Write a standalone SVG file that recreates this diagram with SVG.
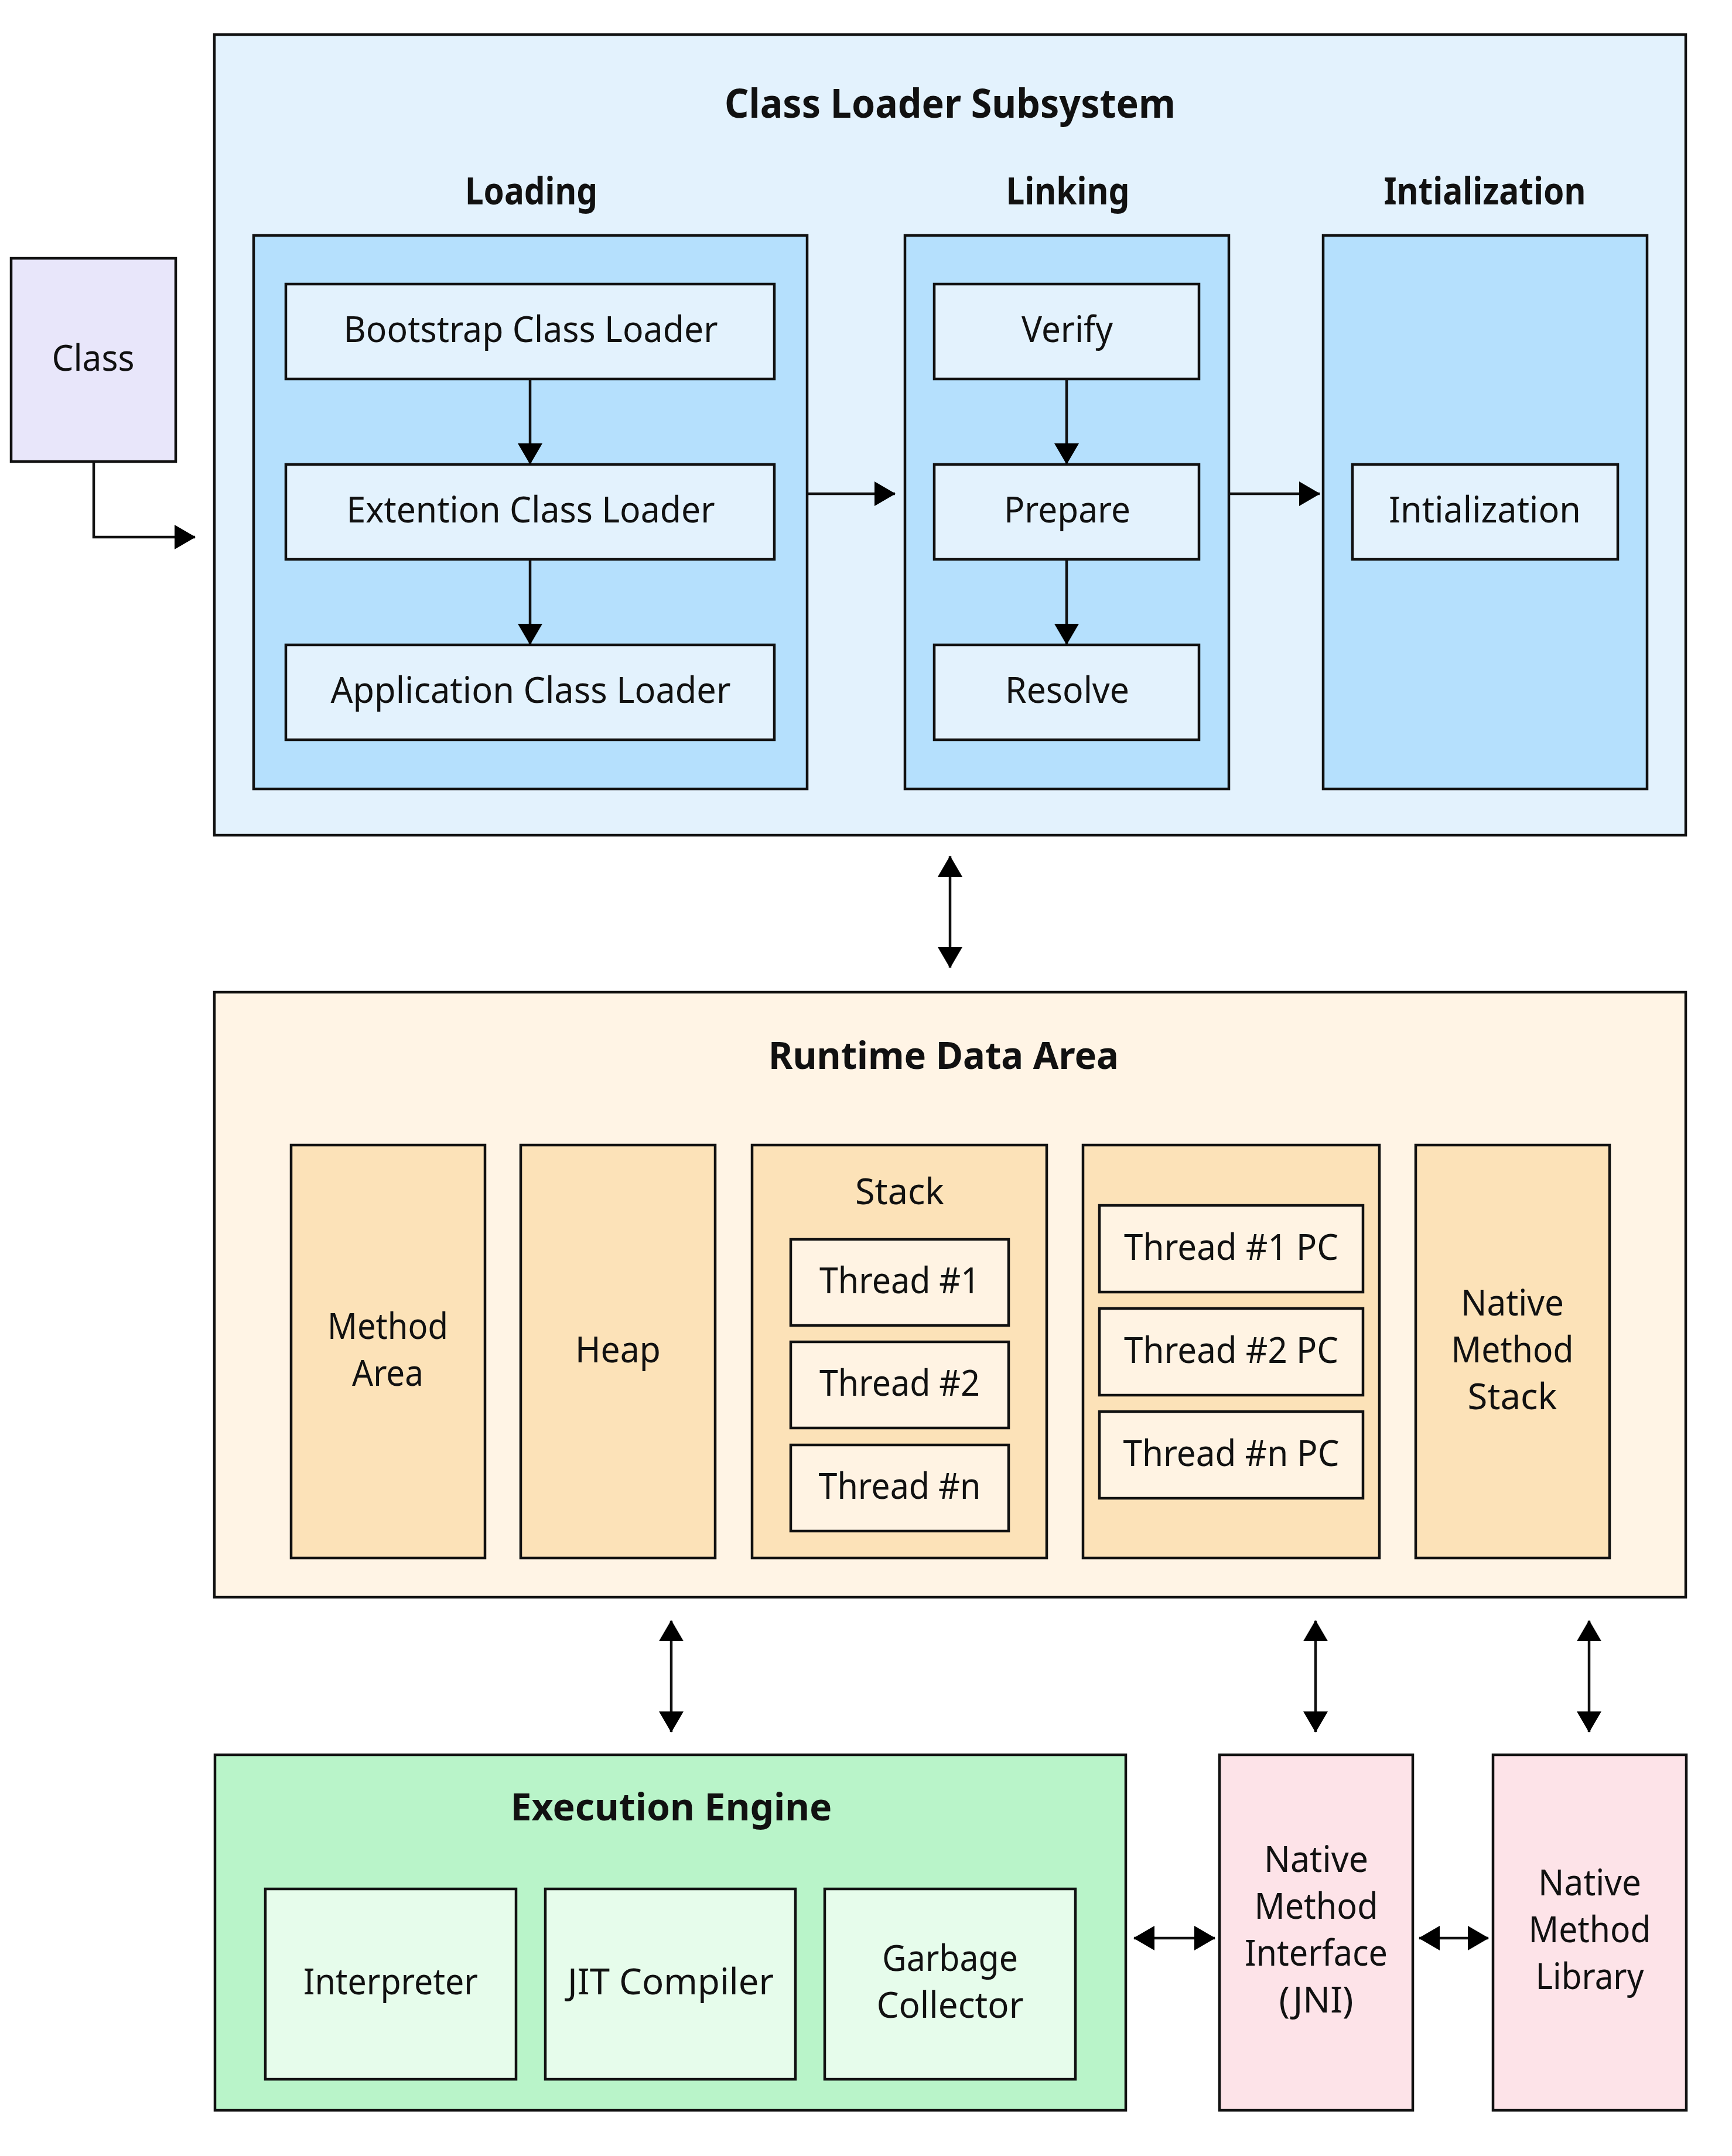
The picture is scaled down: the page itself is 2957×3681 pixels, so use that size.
<svg xmlns="http://www.w3.org/2000/svg" width="2957" height="3681" viewBox="0 0 2957 3681">
  <style>
    .box { stroke: #111; stroke-width: 4.5; }
    .t { font-family: "Noto Sans", "Liberation Sans", sans-serif; font-size: 62px; fill: #111; text-anchor: middle; }
    .h { font-family: "Noto Sans", "Liberation Sans", sans-serif; font-size: 64px; font-weight: bold; fill: #111; text-anchor: middle; }
    .title { font-size: 68px; }
    .cls-outer { fill: #E3F2FD; }
    .cls-group { fill: #B5E0FD; }
    .cls-leaf { fill: #E3F2FD; }
    .src { fill: #E8E6FA; }
    .rda-outer { fill: #FFF4E5; }
    .rda-part { fill: #FCE2B8; }
    .rda-leaf { fill: #FFF3E3; }
    .ee-outer { fill: #B9F4C9; }
    .ee-leaf { fill: #E6FCEB; }
    .native { fill: #FDE3E8; }
    .edge { fill: none; stroke: #111; stroke-width: 4.5; }
  </style>
  <defs>
    <marker id="arrow" markerUnits="userSpaceOnUse" markerWidth="36" markerHeight="42" viewBox="0 0 36 42" refX="35" refY="21" orient="auto-start-reverse">
      <path d="M0,0 L36,21 L0,42 Z" fill="#000"/>
    </marker>
  </defs>

  <rect width="2957" height="3681" fill="#fff"/>

  <!-- Source class file -->
  <g id="class">
    <rect class="box src" x="19" y="441" width="281" height="347"/>
    <text class="t" x="159" y="633" textLength="141" lengthAdjust="spacingAndGlyphs">Class</text>
  </g>

  <!-- Class loader subsystem -->
  <g id="class-loader-subsystem">
    <rect class="box cls-outer" x="366" y="59" width="2512" height="1367"/>
    <text class="h title" x="1622" y="201" textLength="770" lengthAdjust="spacingAndGlyphs">Class Loader Subsystem</text>
  </g>

  <g id="loading">
    <text class="h" x="907" y="349" textLength="226" lengthAdjust="spacingAndGlyphs">Loading</text>
    <rect class="box cls-group" x="433" y="402" width="945" height="945"/>
  </g>
  <g id="bootstrap-loader">
    <rect class="box cls-leaf" x="488" y="485" width="834" height="162"/>
    <text class="t" x="906" y="584" textLength="639" lengthAdjust="spacingAndGlyphs">Bootstrap Class Loader</text>
  </g>
  <g id="extention-loader">
    <rect class="box cls-leaf" x="488" y="793" width="834" height="162"/>
    <text class="t" x="906" y="892" textLength="629" lengthAdjust="spacingAndGlyphs">Extention Class Loader</text>
  </g>
  <g id="application-loader">
    <rect class="box cls-leaf" x="488" y="1101" width="834" height="162"/>
    <text class="t" x="906" y="1200" textLength="683" lengthAdjust="spacingAndGlyphs">Application Class Loader</text>
  </g>

  <g id="linking">
    <text class="h" x="1823" y="349" textLength="211" lengthAdjust="spacingAndGlyphs">Linking</text>
    <rect class="box cls-group" x="1545" y="402" width="553" height="945"/>
  </g>
  <g id="verify">
    <rect class="box cls-leaf" x="1595" y="485" width="452" height="162"/>
    <text class="t" x="1822" y="584" textLength="156" lengthAdjust="spacingAndGlyphs">Verify</text>
  </g>
  <g id="prepare">
    <rect class="box cls-leaf" x="1595" y="793" width="452" height="162"/>
    <text class="t" x="1822" y="892" textLength="216" lengthAdjust="spacingAndGlyphs">Prepare</text>
  </g>
  <g id="resolve">
    <rect class="box cls-leaf" x="1595" y="1101" width="452" height="162"/>
    <text class="t" x="1822" y="1200" textLength="212" lengthAdjust="spacingAndGlyphs">Resolve</text>
  </g>

  <g id="initialization">
    <text class="h" x="2535" y="349" textLength="345" lengthAdjust="spacingAndGlyphs">Intialization</text>
    <rect class="box cls-group" x="2259" y="402" width="553" height="945"/>
  </g>
  <g id="initialization-step">
    <rect class="box cls-leaf" x="2309" y="793" width="453" height="162"/>
    <text class="t" x="2535" y="892" textLength="328" lengthAdjust="spacingAndGlyphs">Intialization</text>
  </g>

  <!-- Runtime data area -->
  <g id="runtime-data-area">
    <rect class="box rda-outer" x="366" y="1694" width="2512" height="1033"/>
    <text class="h" x="1611" y="1825" textLength="598" lengthAdjust="spacingAndGlyphs">Runtime Data Area</text>
  </g>
  <g id="method-area">
    <rect class="box rda-part" x="497" y="1955" width="331" height="705"/>
    <text class="t" x="662" y="2286" textLength="206" lengthAdjust="spacingAndGlyphs">Method</text>
    <text class="t" x="662" y="2366" textLength="122" lengthAdjust="spacingAndGlyphs">Area</text>
  </g>
  <g id="heap">
    <rect class="box rda-part" x="889" y="1955" width="332" height="705"/>
    <text class="t" x="1055" y="2326" textLength="146" lengthAdjust="spacingAndGlyphs">Heap</text>
  </g>
  <g id="stack">
    <rect class="box rda-part" x="1284" y="1955" width="503" height="705"/>
    <text class="t" x="1536" y="2056" textLength="152" lengthAdjust="spacingAndGlyphs">Stack</text>
  </g>
  <g id="stack-thread-1">
    <rect class="box rda-leaf" x="1350" y="2116" width="372" height="147"/>
    <text class="t" x="1536" y="2208" textLength="274" lengthAdjust="spacingAndGlyphs">Thread #1</text>
  </g>
  <g id="stack-thread-2">
    <rect class="box rda-leaf" x="1350" y="2291" width="372" height="147"/>
    <text class="t" x="1536" y="2383" textLength="274" lengthAdjust="spacingAndGlyphs">Thread #2</text>
  </g>
  <g id="stack-thread-n">
    <rect class="box rda-leaf" x="1350" y="2467" width="372" height="147"/>
    <text class="t" x="1536" y="2559" textLength="277" lengthAdjust="spacingAndGlyphs">Thread #n</text>
  </g>
  <g id="pc-registers">
    <rect class="box rda-part" x="1849" y="1955" width="506" height="705"/>
  </g>
  <g id="pc-thread-1">
    <rect class="box rda-leaf" x="1877" y="2058" width="450" height="148"/>
    <text class="t" x="2102" y="2151" textLength="366" lengthAdjust="spacingAndGlyphs">Thread #1 PC</text>
  </g>
  <g id="pc-thread-2">
    <rect class="box rda-leaf" x="1877" y="2234" width="450" height="148"/>
    <text class="t" x="2102" y="2327" textLength="366" lengthAdjust="spacingAndGlyphs">Thread #2 PC</text>
  </g>
  <g id="pc-thread-n">
    <rect class="box rda-leaf" x="1877" y="2410" width="450" height="148"/>
    <text class="t" x="2102" y="2503" textLength="369" lengthAdjust="spacingAndGlyphs">Thread #n PC</text>
  </g>
  <g id="native-method-stack">
    <rect class="box rda-part" x="2417" y="1955" width="331" height="705"/>
    <text class="t" x="2582" y="2246" textLength="176" lengthAdjust="spacingAndGlyphs">Native</text>
    <text class="t" x="2582" y="2326" textLength="209" lengthAdjust="spacingAndGlyphs">Method</text>
    <text class="t" x="2582" y="2406" textLength="153" lengthAdjust="spacingAndGlyphs">Stack</text>
  </g>

  <!-- Execution engine -->
  <g id="execution-engine">
    <rect class="box ee-outer" x="367" y="2996" width="1555" height="607"/>
    <text class="h" x="1146" y="3108" textLength="549" lengthAdjust="spacingAndGlyphs">Execution Engine</text>
  </g>
  <g id="interpreter">
    <rect class="box ee-leaf" x="453" y="3225" width="428" height="325"/>
    <text class="t" x="667" y="3405" textLength="298" lengthAdjust="spacingAndGlyphs">Interpreter</text>
  </g>
  <g id="jit-compiler">
    <rect class="box ee-leaf" x="931" y="3225" width="427" height="325"/>
    <text class="t" x="1145" y="3405" textLength="352" lengthAdjust="spacingAndGlyphs">JIT Compiler</text>
  </g>
  <g id="garbage-collector">
    <rect class="box ee-leaf" x="1408" y="3225" width="428" height="325"/>
    <text class="t" x="1622" y="3365" textLength="232" lengthAdjust="spacingAndGlyphs">Garbage</text>
    <text class="t" x="1622" y="3445" textLength="251" lengthAdjust="spacingAndGlyphs">Collector</text>
  </g>

  <!-- Native side -->
  <g id="jni">
    <rect class="box native" x="2082" y="2996" width="330" height="607"/>
    <text class="t" x="2247" y="3196" textLength="178" lengthAdjust="spacingAndGlyphs">Native</text>
    <text class="t" x="2247" y="3276" textLength="211" lengthAdjust="spacingAndGlyphs">Method</text>
    <text class="t" x="2247" y="3356" textLength="244" lengthAdjust="spacingAndGlyphs">Interface</text>
    <text class="t" x="2247" y="3436" textLength="127" lengthAdjust="spacingAndGlyphs">(JNI)</text>
  </g>
  <g id="native-method-library">
    <rect class="box native" x="2549" y="2996" width="330" height="607"/>
    <text class="t" x="2714" y="3236" textLength="176" lengthAdjust="spacingAndGlyphs">Native</text>
    <text class="t" x="2714" y="3316" textLength="209" lengthAdjust="spacingAndGlyphs">Method</text>
    <text class="t" x="2714" y="3396" textLength="185" lengthAdjust="spacingAndGlyphs">Library</text>
  </g>

  <!-- Connectors -->
  <g id="connectors">
    <path class="edge" d="M160,788 V917 H333" marker-end="url(#arrow)"/>
    <path class="edge" d="M905,647 V792" marker-end="url(#arrow)"/>
    <path class="edge" d="M905,955 V1100" marker-end="url(#arrow)"/>
    <path class="edge" d="M1378,843 H1528" marker-end="url(#arrow)"/>
    <path class="edge" d="M1821,647 V792" marker-end="url(#arrow)"/>
    <path class="edge" d="M1821,955 V1100" marker-end="url(#arrow)"/>
    <path class="edge" d="M2098,843 H2253" marker-end="url(#arrow)"/>
    <path class="edge" d="M1622,1462 V1652" marker-start="url(#arrow)" marker-end="url(#arrow)"/>
    <path class="edge" d="M1146,2767 V2957" marker-start="url(#arrow)" marker-end="url(#arrow)"/>
    <path class="edge" d="M2246,2767 V2957" marker-start="url(#arrow)" marker-end="url(#arrow)"/>
    <path class="edge" d="M2713,2767 V2957" marker-start="url(#arrow)" marker-end="url(#arrow)"/>
    <path class="edge" d="M1936,3309 H2074" marker-start="url(#arrow)" marker-end="url(#arrow)"/>
    <path class="edge" d="M2423,3309 H2541" marker-start="url(#arrow)" marker-end="url(#arrow)"/>
  </g>
</svg>
